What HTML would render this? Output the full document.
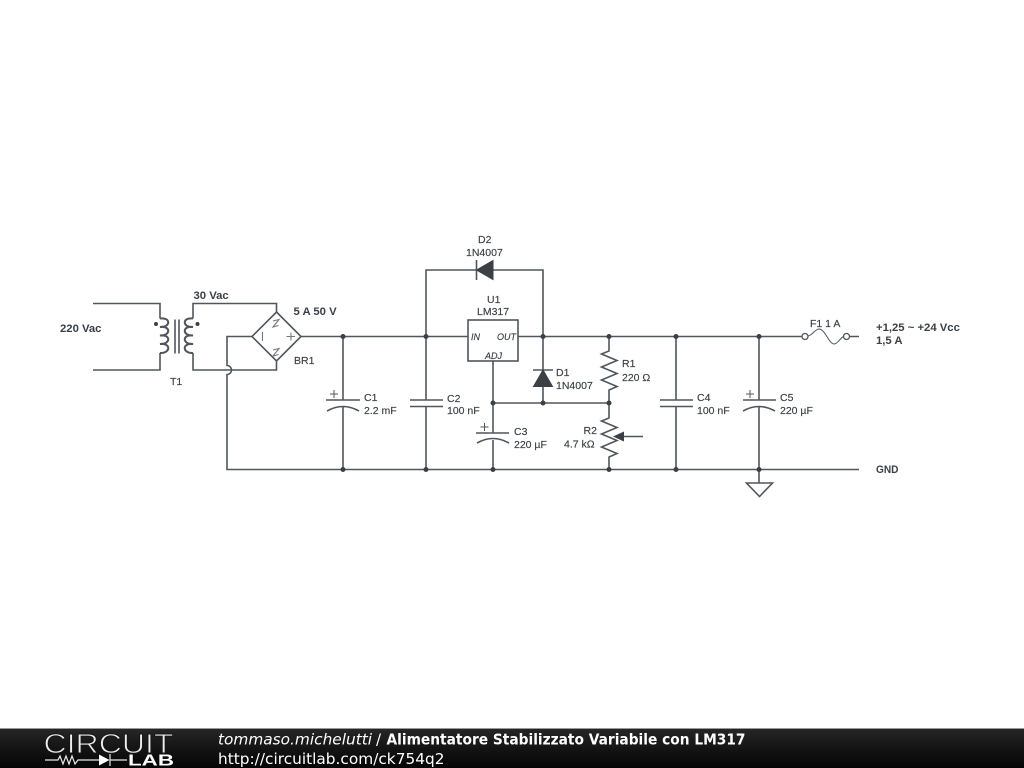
<!DOCTYPE html>
<html><head><meta charset="utf-8"><style>
html,body{margin:0;padding:0;background:#fff;width:1024px;height:768px;overflow:hidden}
svg{position:absolute;left:0;top:0}
.w{fill:none;stroke:#50575c;stroke-width:1.6}
.t{font-family:"Liberation Sans",sans-serif;font-size:10.5px;fill:#3a4045;stroke:#3a4045;stroke-width:.15}
.b{font-weight:bold;font-size:11.3px;stroke:none}
.i{font-style:italic;font-size:9px}
.f{font-family:"DejaVu Sans",sans-serif;font-size:15px;fill:#fff}
</style></head><body>
<svg width="1024" height="768" viewBox="0 0 1024 768">
<defs><linearGradient id="g" x1="0" y1="0" x2="0" y2="1"><stop offset="0" stop-color="#262626"/><stop offset=".5" stop-color="#141414"/><stop offset="1" stop-color="#050505"/></linearGradient></defs>
<rect width="1024" height="768" fill="#fff"/>
<!-- Transformer -->
<path class="w" d="M93 303.500H160V318.500M160 353V370H93"/>
<path class="w" style="stroke-width:2" d="M160 318.500c11-1.500 11 9 0 8.500c11-1.500 11 9 0 8.500c11-1.500 11 9 0 8.500c11-1.500 11 9.500 0 9"/>
<path class="w" style="stroke-width:2" d="M193 318.500c-11-1.500-11 9 0 8.500c-11-1.500-11 9 0 8.500c-11-1.500-11 9 0 8.500c-11-1.500-11 9.500 0 9"/>
<path class="w" d="M175 319.500V353.500M179 319.500V353.500"/>
<circle cx="156" cy="324" r="2" fill="#3a4045"/><circle cx="197.500" cy="324" r="2" fill="#3a4045"/>
<path class="w" d="M193 318.500V303.500H276.500V312M193 353V370H276.500V361"/>
<!-- Bridge -->
<path class="w" d="M276.500 312L301 336.500L276.500 361L252 336.500Z"/>
<path style="fill:none;stroke:#777;stroke-width:1.100" d="M262.500 332V341M286.500 336.500H295M291 332.500V340.500"/>
<path style="fill:none;stroke:#777;stroke-width:1.100" d="M273 321L279 319.500L273 327L278.500 325.500M273 350L279 348.500L273 356L278.500 354.500"/>
<path class="w" d="M252 336.500H227V365.500a4.500 4.500 0 0 1 0 9V469.500H859"/>
<!-- Main rail -->
<path class="w" d="M301 336.500H468M518 336.500H805M849.500 336.500H859"/>
<!-- LM317 -->
<rect class="w" x="468" y="320" width="50" height="41"/>
<!-- D2 loop -->
<path class="w" d="M426 336.500V270H476.500M493 270H543V370M543 386V403"/>
<path class="w" d="M476.500 260V280"/>
<path d="M476.500 270L493 260.500V279.500Z" fill="#3a4045" stroke="#3a4045"/>
<!-- D1 -->
<path class="w" d="M533 370H553"/>
<path d="M543 370L552.500 386.500H533.500Z" fill="#3a4045" stroke="#3a4045"/>
<!-- ADJ -->
<path class="w" d="M493 361V433M493 403H609M493 440V469.500"/>
<!-- R1 / R2 -->
<path class="w" d="M609 336.500V351L601.500 354L617 360.500L601.500 367L617 373.500L601.500 380L617 386.500L609 390V418L601.500 421L617 427.500L601.500 434L617 440.500L601.500 447L617 453.500L609 457V469.500"/>
<path class="w" d="M643 436.500H620"/>
<path d="M613 436.500L624 431.500V441.500Z" fill="#3a4045"/>
<!-- C1 -->
<path class="w" d="M343 336.500V400M326 400H360M343 406V469.500M327 411Q343 402 359 411"/>
<path class="w" style="stroke-width:1" d="M330 394H338M334 390V398"/>
<!-- C2 -->
<path class="w" d="M426 336.500V400M410 400H443M410 406.500H443M426 406.500V469.500"/>
<!-- C3 -->
<path class="w" d="M476 433H509M477 443Q493 434 509 443"/>
<path class="w" style="stroke-width:1" d="M480.500 427H488.500M484.500 423V431"/>
<!-- C4 -->
<path class="w" d="M676 336.500V400M660 400H693M660 406.500H693M676 406.500V469.500"/>
<!-- C5 -->
<path class="w" d="M759 336.500V400M743 400H776M759 406V483M743 411Q759 402 775 411"/>
<path class="w" style="stroke-width:1" d="M746 394H754M750 390V398"/>
<!-- Ground -->
<path class="w" d="M746.500 483H772.500L759.500 496.500Z"/>
<!-- Fuse -->
<circle class="w" cx="805" cy="336.500" r="3" style="fill:#fff;stroke-width:1.300"/>
<circle class="w" cx="846.500" cy="336.500" r="3" style="fill:#fff;stroke-width:1.300"/>
<path class="w" style="stroke-width:1" d="M808 336C813 335 815 329 819 329C825 329 829 344 834 344C838 344 840 338 843.500 336.500"/>
<!-- Junctions -->
<g fill="#3a4045">
<circle cx="343" cy="336.500" r="2.500"/><circle cx="426" cy="336.500" r="2.500"/><circle cx="543" cy="336.500" r="2.500"/><circle cx="609" cy="336.500" r="2.500"/><circle cx="676" cy="336.500" r="2.500"/><circle cx="759" cy="336.500" r="2.500"/>
<circle cx="493" cy="403" r="2.500"/><circle cx="543" cy="403" r="2.500"/><circle cx="609" cy="403" r="2.500"/>
<circle cx="343" cy="469.500" r="2.500"/><circle cx="426" cy="469.500" r="2.500"/><circle cx="493" cy="469.500" r="2.500"/><circle cx="609" cy="469.500" r="2.500"/><circle cx="676" cy="469.500" r="2.500"/><circle cx="759" cy="469.500" r="2.500"/>
</g>
<!-- Labels -->
<g class="t">
<text class="t b" x="60" y="332">220 Vac</text>
<text class="t b" x="193.500" y="299">30 Vac</text>
<text class="t b" x="293.500" y="315">5 A 50 V</text>
<text class="t" x="294" y="364">BR1</text>
<text class="t" x="170" y="385">T1</text>
<text class="t" x="478" y="243">D2</text>
<text class="t" x="466" y="256">1N4007</text>
<text class="t" x="487" y="303">U1</text>
<text class="t" x="477" y="315">LM317</text>
<text class="t i" x="471" y="340">IN</text>
<text class="t i" x="497" y="340">OUT</text>
<text class="t i" x="485" y="359">ADJ</text>
<text class="t" x="556" y="376">D1</text>
<text class="t" x="556" y="389">1N4007</text>
<text class="t" x="622" y="367">R1</text>
<text class="t" x="622" y="381">220 Ω</text>
<text class="t" x="583.500" y="434">R2</text>
<text class="t" x="564" y="447.500">4.7 kΩ</text>
<text class="t" x="364" y="401">C1</text>
<text class="t" x="364" y="414">2.2 mF</text>
<text class="t" x="447" y="402">C2</text>
<text class="t" x="447" y="414">100 nF</text>
<text class="t" x="514" y="435">C3</text>
<text class="t" x="514" y="448">220 µF</text>
<text class="t" x="697" y="401">C4</text>
<text class="t" x="697" y="414">100 nF</text>
<text class="t" x="780" y="401">C5</text>
<text class="t" x="780" y="414">220 µF</text>
<text class="t" x="810" y="327">F1 1 A</text>
<text class="t b" x="876" y="331">+1,25 ~ +24 Vcc</text>
<text class="t b" x="876" y="344">1,5 A</text>
<text class="t b" x="876" y="473" textLength="22.500" lengthAdjust="spacingAndGlyphs">GND</text>
</g>
<!-- Footer -->
<rect x="0" y="728" width="1024" height="1" fill="#999"/>
<rect x="0" y="729" width="1024" height="39" fill="url(#g)"/>
<text x="43.500" y="753" font-family="'Liberation Sans',sans-serif" font-size="27.500" fill="#eee" stroke="#161616" stroke-width=".9" textLength="130" lengthAdjust="spacingAndGlyphs">CIRCUIT</text>
<path d="M45 760H58L60 756L63 764L66 756L69 764L72 756L75 764L78 760H99M110 754V766M110 760H127" fill="none" stroke="#e8e8e8" stroke-width="1.200"/>
<path d="M99 754.500L109.500 760L99 765.500Z" fill="#fff"/>
<text x="128" y="765.500" font-family="'Liberation Sans',sans-serif" font-size="15.500" font-weight="bold" fill="#fff" textLength="46" lengthAdjust="spacingAndGlyphs">LAB</text>
<text class="f" x="218" y="744.500" textLength="154" lengthAdjust="spacingAndGlyphs" font-style="italic">tommaso.michelutti</text>
<text class="f" x="376" y="744.500">/</text>
<text class="f" x="386.500" y="744.500" font-weight="bold" textLength="359" lengthAdjust="spacingAndGlyphs">Alimentatore Stabilizzato Variabile con LM317</text>
<text class="f" x="218" y="764" textLength="226.500" lengthAdjust="spacingAndGlyphs">http://circuitlab.com/ck754q2</text>
</svg>
</body></html>
